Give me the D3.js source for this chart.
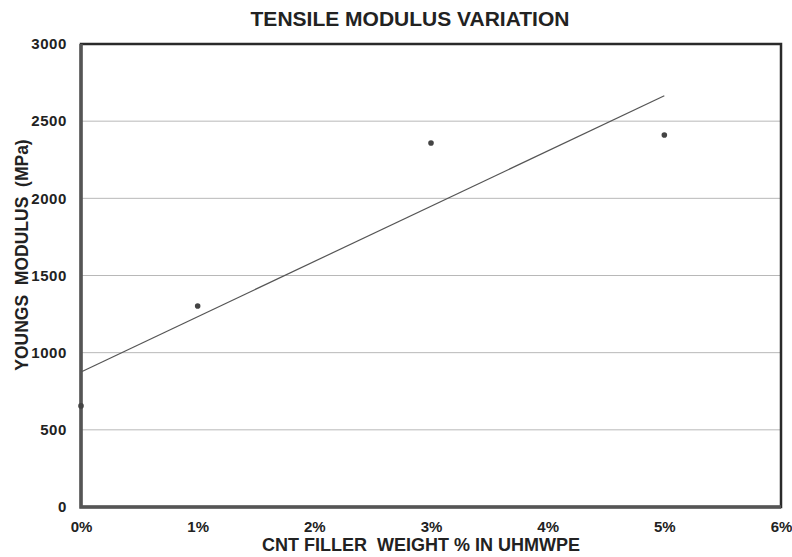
<!DOCTYPE html>
<html>
<head>
<meta charset="utf-8">
<script src="https://cdn.jsdelivr.net/npm/d3@7"></script>
<style>
  body { margin: 0; background: #fff; }
  text { font-family: "Liberation Sans", Arial, sans-serif; font-weight: bold; fill: #222; }
</style>
</head>
<body>
<div id="chart"></div>
<script>
// data
var fillerPct  = [0, 1, 3, 5];             // CNT filler weight %
var modulusMPa = [655, 1302, 2359, 2410];  // Young's modulus
var trendX     = [0, 5];                   // linear trendline ends
var trendY     = [875, 2665];
var xTicks     = [0, 1, 2, 3, 4, 5, 6];
var yTicks     = [0, 500, 1000, 1500, 2000, 2500, 3000];

var width = 792, height = 557;
var margin = {top: 44, right: 11, bottom: 50, left: 81};
var w = width - margin.left - margin.right;
var h = height - margin.top - margin.bottom;

var svg = d3.select("#chart").append("svg")
    .attr("width", width)
    .attr("height", height);

var g = svg.append("g")
    .attr("transform", "translate(" + margin.left + "," + margin.top + ")");

var x = d3.scaleLinear().domain([0, 6]).range([0, w]);
var y = d3.scaleLinear().domain([0, 3000]).range([h, 0]);

// gridlines
g.selectAll(".grid")
    .data(yTicks.filter(function (d) { return d > 0 && d < 3000; }))
    .enter().append("line")
    .attr("x1", 0).attr("x2", w)
    .attr("y1", function (d) { return y(d); })
    .attr("y2", function (d) { return y(d); })
    .attr("stroke", "#b8b8b8")
    .attr("stroke-width", 1);

// axes (labels only, domain drawn as frame)
var yAxis = g.append("g")
    .call(d3.axisLeft(y).tickValues(yTicks).tickSize(0).tickPadding(14)
        .tickFormat(d3.format("d")));
yAxis.select(".domain").remove();
yAxis.selectAll("text").style("font-size", "15px").style("letter-spacing", "0.6px").attr("fill", "#222");

var xAxis = g.append("g")
    .attr("transform", "translate(0," + h + ")")
    .call(d3.axisBottom(x).tickValues(xTicks).tickSize(0).tickPadding(14)
        .tickFormat(function (d) { return d + "%"; }));
xAxis.select(".domain").remove();
xAxis.selectAll("text").style("font-size", "15px").attr("fill", "#222");

// frame
g.append("rect")
    .attr("x", 0).attr("y", 0)
    .attr("width", w).attr("height", h)
    .attr("fill", "none")
    .attr("stroke", "#2a2a2a")
    .attr("stroke-width", 2.5);
g.append("path")
    .attr("d", "M0,0V" + h + "H" + w)
    .attr("fill", "none")
    .attr("stroke", "#555")
    .attr("stroke-width", 3.5);

// trendline
var line = d3.line()
    .x(function (d, i) { return x(trendX[i]); })
    .y(function (d) { return y(d); });
g.append("path")
    .datum(trendY)
    .attr("d", line)
    .attr("fill", "none")
    .attr("stroke", "#555")
    .attr("stroke-width", 1.2);

// points
g.selectAll(".pt")
    .data(modulusMPa)
    .enter().append("circle")
    .attr("cx", function (d, i) { return x(fillerPct[i]); })
    .attr("cy", function (d) { return y(d); })
    .attr("r", 2.8)
    .attr("fill", "#444");

// titles
svg.append("text")
    .attr("x", 410).attr("y", 26)
    .attr("text-anchor", "middle")
    .style("font-size", "21px")
    .text("TENSILE MODULUS VARIATION");

svg.append("text")
    .attr("x", 421).attr("y", 551)
    .attr("text-anchor", "middle")
    .style("font-size", "18px")
    .attr("xml:space", "preserve")
    .text("CNT FILLER  WEIGHT % IN UHMWPE");

svg.append("text")
    .attr("transform", "translate(28,255) rotate(-90)")
    .attr("text-anchor", "middle")
    .style("font-size", "17.5px")
    .attr("xml:space", "preserve")
    .text("YOUNGS  MODULUS  (MPa)");
</script>
</body>
</html>
